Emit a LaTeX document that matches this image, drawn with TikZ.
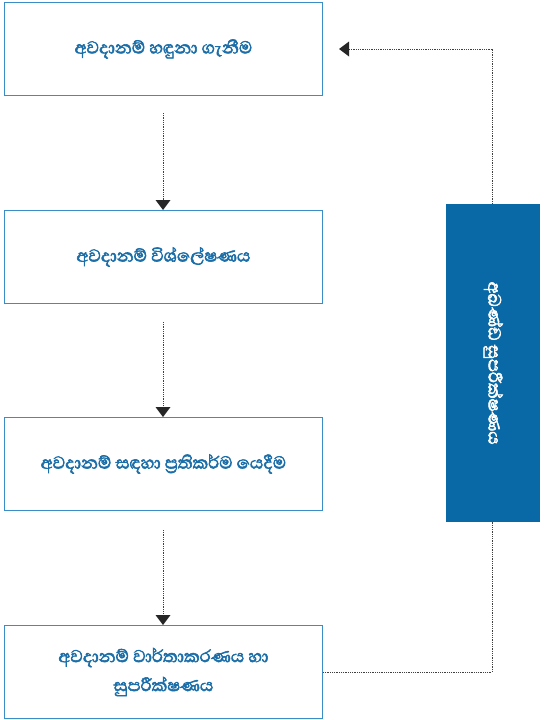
\documentclass[tikz,border=0pt]{standalone}
\usepackage{fontspec}
\newfontfamily\sinfont[Script=Sinhala, FakeBold=2.5]{Abhaya Libre}
\usetikzlibrary{arrows.meta}
\definecolor{boxline}{HTML}{3A8DC6}
\definecolor{txtblue}{HTML}{1B6EA8}
\definecolor{sidefill}{HTML}{0969A6}
\tikzset{
  stepbox/.style={draw=boxline, line width=0.9pt, minimum width=318pt, minimum height=93pt, anchor=north west, inner sep=0pt, align=center, text=txtblue, font=\sinfont\fontsize{22}{29}\selectfont},
  dotline/.style={draw=black!75, line width=0.8pt, dash pattern=on 0.9pt off 0.9pt},
  arr/.style={dotline, -{Triangle[width=15pt,length=10pt,fill=black!85,line width=0pt]}}
}
\begin{document}
\begin{tikzpicture}[x=1pt,y=-1pt]
\useasboundingbox (0,0) rectangle (545,720);
\node[stepbox] (b1) at (4,2) {අවදානම් හඳුනා ගැනීම};
\node[stepbox] (b2) at (4,210) {අවදානම් විශ්ලේෂණය};
\node[stepbox] (b3) at (4,417) {අවදානම් සඳහා ප්‍රතිකර්ම යෙදීම};
\node[stepbox] (b4) at (4,625) {අවදානම් වාර්තාකරණය හා\\සුපරීක්ෂණය};
\coordinate (c1) at (163,113);
\coordinate (c2) at (163,322);
\coordinate (c3) at (163,530);
\coordinate (r1) at (492,672);
\coordinate (r2) at (492,49);
\coordinate (tip) at (339,49);
\draw[arr] (c1) -- (b2.north -| c1);
\draw[arr] (c2) -- (b3.north -| c2);
\draw[arr] (c3) -- (b4.north -| c3);
\draw[dotline] (b4.east |- r1) -- (r1) -- (r2);
\draw[arr] (r2) -- (tip);
\node[fill=sidefill, minimum width=94pt, minimum height=318pt, inner sep=0pt, anchor=north west] (side) at (446,204) {};
\node[rotate=-90, text=white, font=\sinfont\fontsize{22}{24}\selectfont] (sidetxt) at (side.center) {අඛණ්ඩ සුපරීක්ෂණය};
\end{tikzpicture}
\end{document}
